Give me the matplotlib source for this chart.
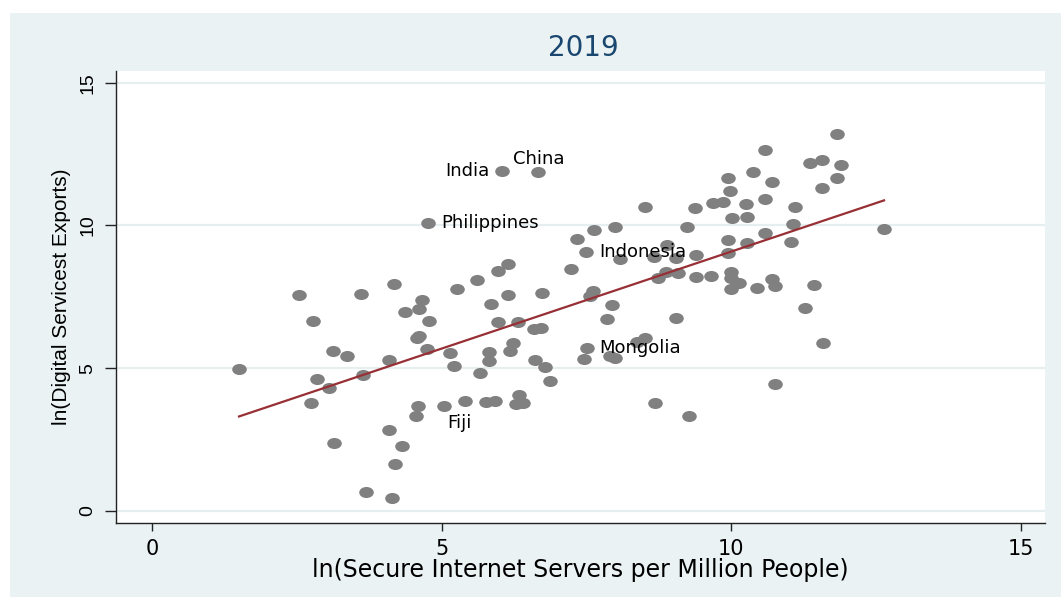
import numpy as np
import matplotlib
matplotlib.use("Agg")
import matplotlib.pyplot as plt
from matplotlib.path import Path
from matplotlib.patches import Rectangle

plt.rcParams['font.family'] = ['Liberation Sans', 'DejaVu Sans']
WIDE = ['DejaVu Sans']  # reference text is horizontally stretched

# ---- data ----
ln_servers = [1.50, 2.53, 2.77, 2.74, 2.84, 3.06, 3.13, 3.14, 3.37, 3.60,
              3.64, 3.69, 4.09, 4.09, 4.15, 4.18, 4.20, 4.32, 4.37, 4.55,
              4.59, 4.60, 4.66, 4.60, 4.57, 4.74, 4.78, 4.77, 5.04, 5.14,
              5.21, 5.26, 5.41, 5.61, 5.66, 5.76, 5.92, 5.81, 5.81, 5.86,
              5.98, 5.98, 6.04, 6.15, 6.15, 6.18, 6.23, 6.29, 6.33, 6.40,
              6.32, 6.59, 6.72, 6.61, 6.78, 6.87, 6.67, 6.74, 7.24, 7.33,
              7.50, 7.63, 7.62, 7.57, 7.51, 7.46, 7.85, 7.94, 7.90, 8.00,
              8.00, 8.08, 8.37, 8.51, 8.51, 8.66, 8.69, 8.74, 8.87, 8.90,
              9.04, 9.08, 9.04, 9.23, 9.27, 9.37, 9.39, 9.39, 9.66, 9.69,
              9.86, 9.94, 9.98, 9.94, 9.95, 10.00, 9.99, 10.14, 9.99, 10.02,
              10.25, 10.27, 10.27, 10.37, 10.44, 10.59, 10.58, 10.58, 10.70, 10.70,
              10.76, 10.75, 11.04, 11.06, 11.10, 11.27, 11.36, 11.57, 11.57, 11.43,
              11.58, 11.82, 11.89, 11.83, 12.64]
ln_exports = [4.98, 7.55, 6.66, 3.77, 4.62, 4.30, 5.59, 2.38, 5.43, 7.60,
              4.75, 0.65, 5.28, 2.84, 0.44, 7.94, 1.65, 2.26, 6.97, 3.33,
              3.69, 7.08, 7.40, 6.13, 6.05, 5.66, 6.65, 10.07, 3.68, 5.53,
              5.09, 7.76, 3.84, 8.09, 4.84, 3.81, 3.85, 5.58, 5.26, 7.26,
              8.41, 6.63, 11.90, 7.56, 8.65, 5.60, 5.89, 3.75, 4.06, 3.79,
              6.61, 6.36, 6.40, 5.29, 5.05, 4.56, 11.87, 7.64, 8.47, 9.51,
              9.07, 9.84, 7.70, 7.53, 5.72, 5.33, 6.71, 7.21, 5.42, 5.35,
              9.93, 8.81, 5.93, 6.05, 10.63, 8.88, 3.77, 8.15, 8.38, 9.31,
              8.85, 8.32, 6.76, 9.93, 3.33, 10.60, 8.96, 8.20, 8.23, 10.80,
              10.83, 11.67, 11.19, 9.49, 9.02, 8.38, 8.15, 7.97, 7.76, 10.25,
              10.75, 10.28, 9.37, 11.88, 7.82, 9.75, 10.92, 12.64, 11.53, 8.12,
              7.89, 4.44, 9.41, 10.04, 10.63, 7.10, 12.20, 12.29, 11.30, 7.91,
              5.89, 11.66, 12.11, 13.19, 9.88]

labels = ["India", "China", "Philippines", "Indonesia", "Mongolia", "Fiji"]
label_x = [6.04, 6.67, 4.77, 7.50, 7.51, 5.41]
label_y = [11.90, 11.87, 10.07, 9.07, 5.72, 3.84]
label_pos = [9, 12, 3, 3, 3, 6]   # clock positions as in Stata

x_ticks = [0, 5, 10, 15]
y_ticks = [0, 5, 10, 15]

# ---- figure ----
W, H = 1061, 597
fig = plt.figure(figsize=(W / 100, H / 100), dpi=100, facecolor='white')
bg = Rectangle((10 / W, 0), 1 - 10 / W, (H - 13) / H, transform=fig.transFigure,
               facecolor='#EAF2F3', edgecolor='none', zorder=-10)
fig.patches.append(bg)

ax = fig.add_axes([115.7 / W, 1 - 523.3 / H, (1045 - 115.7) / W, (523.3 - 70.7) / H])
ax.set_facecolor('white')
ax.set_xlim(-0.63, 15.42)
ax.set_ylim(-0.43, 15.42)

for yt in y_ticks:
    ax.axhline(yt, color='#E6EEF0', lw=1.6, zorder=0)

# elliptical marker (reference is slightly stretched horizontally)
circ = Path.unit_circle()
ell = Path(circ.vertices * np.array([1.0, 0.76]), circ.codes)

x = np.array(ln_servers)
y = np.array(ln_exports)
ax.plot(x, y, linestyle='none', marker=ell, markersize=10.5,
        markerfacecolor='#808080', markeredgecolor='none', zorder=3)

b, a = np.polyfit(x, y, 1)
xx = np.array([x.min(), x.max()])
ax.plot(xx, a + b * xx, color='#972F35', lw=1.6, zorder=4)

offsets = {3: (9, 0, 'left', 'center'), 9: (-9, 0, 'right', 'center'),
           12: (0, 9.5, 'center', 'center'), 6: (-4, -9, 'center', 'top')}
for lab, lx, ly, p in zip(labels, label_x, label_y, label_pos):
    dx, dy, ha, va = offsets[p]
    ax.annotate(lab, (lx, ly), xytext=(dx, dy), textcoords='offset points',
                ha=ha, va=va, fontsize=13, color='black', family=WIDE, zorder=5)

for s in ['top', 'right']:
    ax.spines[s].set_visible(False)
for s in ['left', 'bottom']:
    ax.spines[s].set_color('#222222')
    ax.spines[s].set_linewidth(1.0)

ax.set_xticks(x_ticks)
ax.set_yticks(y_ticks)
ax.tick_params(axis='x', length=5.5, width=1, color='#222222', labelsize=15, pad=6)
ax.tick_params(axis='y', length=8, width=1, color='#222222', labelsize=14, pad=6)
for t in ax.get_xticklabels():
    t.set_family(WIDE)
for t in ax.get_yticklabels():
    t.set_rotation(90)
    t.set_va('center')

ax.set_xlabel('ln(Secure Internet Servers per Million People)', fontsize=17,
              labelpad=-1, family=WIDE)
ax.set_ylabel('ln(Digital Servicest Exports)', fontsize=15, labelpad=6)

fig.text(583 / W, 1 - 48 / H, '2019', ha='center', va='center', fontsize=20,
         color='#1A476F', family=WIDE)

fig.savefig('out.png', dpi=100, facecolor='white')
